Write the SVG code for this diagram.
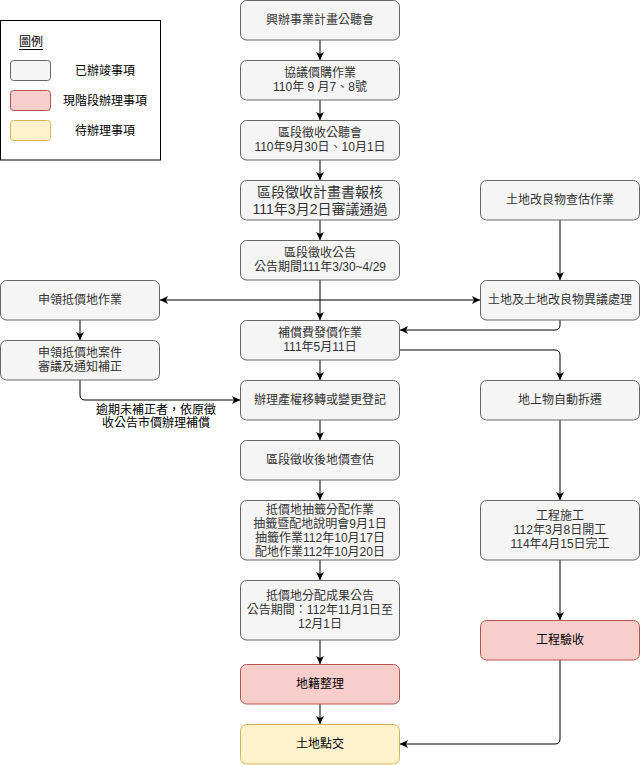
<svg xmlns="http://www.w3.org/2000/svg" width="641" height="765" viewBox="0 0 641 765">
<style>
text{font-family:"Liberation Sans","Noto Sans CJK TC",sans-serif;font-size:12px;text-anchor:middle;dominant-baseline:central}
.g{fill:#f5f5f5;stroke:#666666;stroke-width:1}
.r{fill:#f8cecc;stroke:#b85450;stroke-width:1}
.y{fill:#fff2cc;stroke:#d6b656;stroke-width:1}
.gt{fill:#333333}
.bt{fill:#000000}
.e{fill:none;stroke:#000;stroke-width:1;marker-end:url(#a)}
</style>
<defs>
<marker id="a" viewBox="0 0 10 10" refX="10" refY="5" markerWidth="8" markerHeight="8" markerUnits="userSpaceOnUse" orient="auto">
<path d="M0,0 L10,5 L0,10 L2.5,5 Z" fill="#000"/>
</marker>
</defs>
<rect width="641" height="765" fill="#ffffff"/>
<g id="legend">
<rect x="0.5" y="20.5" width="160" height="139.5" fill="#ffffff" stroke="#000"/>
<text x="31" y="42" class="bt">圖例</text>
<line x1="19" y1="49.5" x2="43" y2="49.5" stroke="#000" stroke-width="1"/>
<rect x="10.5" y="60.5" width="40" height="20" rx="3" class="g"/>
<rect x="10.5" y="90.5" width="40" height="20" rx="3" class="r"/>
<rect x="10.5" y="120.5" width="40" height="20" rx="3" class="y"/>
<text x="105" y="71" class="bt">已辦竣事項</text>
<text x="105" y="101" class="bt">現階段辦理事項</text>
<text x="105" y="131" class="bt">待辦理事項</text>
</g>
<g id="connectors">
<path class="e" d="M320,40 V60"/>
<path class="e" d="M320,100 V120"/>
<path class="e" d="M320,160 V180"/>
<path class="e" d="M320,220 V240"/>
<path class="e" d="M320,280 V320"/>
<path class="e" d="M320,300 H160"/>
<path class="e" d="M320,300 H480"/>
<path class="e" d="M320,360 V380"/>
<path class="e" d="M320,420 V440"/>
<path class="e" d="M320,480 V500"/>
<path class="e" d="M320,560 V580"/>
<path class="e" d="M320,640 V664"/>
<path class="e" d="M320,704 V724"/>
<path class="e" d="M560,220 V280"/>
<path class="e" d="M560,320 V325 Q560,330 555,330 H400"/>
<path class="e" d="M400,350 H555 Q560,350 560,355 V380"/>
<path class="e" d="M560,420 V500"/>
<path class="e" d="M560,560 V620"/>
<path class="e" d="M560,660 V739 Q560,744 555,744 H400"/>
<path class="e" d="M80,320 V340"/>
<path class="e" d="M80,380 V395 Q80,400 85,400 H240"/>
<text x="156" y="410" class="bt">逾期未補正者，依原徵</text>
<text x="156" y="423" class="bt">收公告市價辦理補償</text>
</g>
<g id="n1"><rect x="240.5" y="0.5" width="159" height="39.5" rx="6" class="g"/><text x="320" y="20" class="gt">興辦事業計畫公聽會</text></g>
<g id="n2"><rect x="240.5" y="60.5" width="159" height="39.5" rx="6" class="g"/><text x="320" y="73" class="gt">協議價購作業</text><text x="320" y="87" class="gt">110年 9 月7、8號</text></g>
<g id="n3"><rect x="240.5" y="120.5" width="159" height="39.5" rx="6" class="g"/><text x="320" y="133" class="gt">區段徵收公聽會</text><text x="320" y="147" class="gt">110年9月30日、10月1日</text></g>
<g id="n4"><rect x="240.5" y="180.5" width="159" height="39.5" rx="6" class="g"/><text x="320" y="192" class="gt" style="font-size:14px">區段徵收計畫書報核</text><text x="320" y="209" class="gt" style="font-size:14px">111年3月2日審議通過</text></g>
<g id="n5"><rect x="240.5" y="240.5" width="159" height="39.5" rx="6" class="g"/><text x="320" y="253" class="gt">區段徵收公告</text><text x="320" y="267" class="gt">公告期間111年3/30~4/29</text></g>
<g id="n6"><rect x="240.5" y="320.5" width="159" height="39.5" rx="6" class="g"/><text x="320" y="333" class="gt">補償費發價作業</text><text x="320" y="347" class="gt">111年5月11日</text></g>
<g id="n7"><rect x="240.5" y="380.5" width="159" height="39.5" rx="6" class="g"/><text x="320" y="400" class="gt">辦理產權移轉或變更登記</text></g>
<g id="n8"><rect x="240.5" y="440.5" width="159" height="39.5" rx="6" class="g"/><text x="320" y="460" class="gt">區段徵收後地價查估</text></g>
<g id="n9"><rect x="240.5" y="500.5" width="159" height="59.5" rx="6" class="g"/><text x="320" y="510" class="gt">抵價地抽籤分配作業</text><text x="320" y="524" class="gt">抽籤暨配地說明會9月1日</text><text x="320" y="538" class="gt">抽籤作業112年10月17日</text><text x="320" y="552" class="gt">配地作業112年10月20日</text></g>
<g id="n10"><rect x="240.5" y="580.5" width="159" height="59.5" rx="6" class="g"/><text x="320" y="596" class="gt">抵價地分配成果公告</text><text x="320" y="610" class="gt">公告期間：112年11月1日至</text><text x="320" y="624" class="gt">12月1日</text></g>
<g id="n11"><rect x="240.5" y="664.5" width="159" height="39.5" rx="6" class="r"/><text x="320" y="684" class="bt">地籍整理</text></g>
<g id="n12"><rect x="240.5" y="724.5" width="159" height="39.5" rx="6" class="y"/><text x="320" y="744" class="bt">土地點交</text></g>
<g id="n13"><rect x="0.5" y="280.5" width="159" height="39.5" rx="6" class="g"/><text x="80" y="300" class="gt">申領抵價地作業</text></g>
<g id="n14"><rect x="0.5" y="340.5" width="159" height="39.5" rx="6" class="g"/><text x="80" y="353" class="gt">申領抵價地案件</text><text x="80" y="367" class="gt">審議及通知補正</text></g>
<g id="n15"><rect x="480.5" y="180.5" width="159" height="39.5" rx="6" class="g"/><text x="560" y="200" class="gt">土地改良物查估作業</text></g>
<g id="n16"><rect x="480.5" y="280.5" width="159" height="39.5" rx="6" class="g"/><text x="560" y="300" class="gt">土地及土地改良物異議處理</text></g>
<g id="n17"><rect x="480.5" y="380.5" width="159" height="39.5" rx="6" class="g"/><text x="560" y="400" class="gt">地上物自動拆遷</text></g>
<g id="n18"><rect x="480.5" y="500.5" width="159" height="59.5" rx="6" class="g"/><text x="560" y="516" class="gt">工程施工</text><text x="560" y="530" class="gt">112年3月8日開工</text><text x="560" y="544" class="gt">114年4月15日完工</text></g>
<g id="n19"><rect x="480.5" y="620.5" width="159" height="39.5" rx="6" class="r"/><text x="560" y="640" class="bt">工程驗收</text></g>
</svg>
